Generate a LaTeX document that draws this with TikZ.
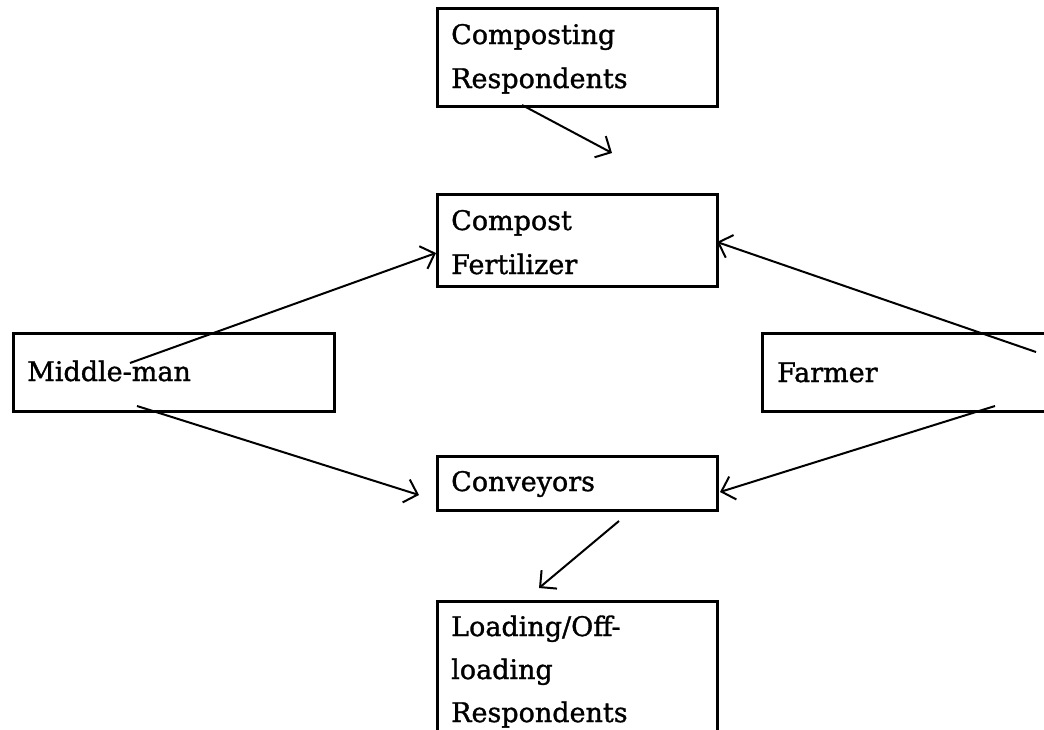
\documentclass[tikz,border=0pt]{standalone}
\usepackage{fontspec}
\setmainfont{DejaVu Serif}
\newfontfamily\heavyserif{DejaVu Serif}[FakeBold=1.2]
\usetikzlibrary{arrows.meta}
\begin{document}
\begin{tikzpicture}[x=1pt,y=-1pt,
  box/.style={draw,line width=2.5pt,rectangle,inner sep=0pt,anchor=north west},
  lbl/.style={anchor=base west,inner sep=0pt,font=\heavyserif\fontsize{27}{30}\selectfont},
  conn/.style={line width=2pt,-{Straight Barb[length=12pt,width=24pt,line width=2pt]}}]
\useasboundingbox (0,0) rectangle (1044,729);
% boxes
\node[box,minimum width=280pt,minimum height=98pt] (cr) at (436,7) {};
\node[box,minimum width=280pt,minimum height=92pt] (cf) at (436,193) {};
\node[box,minimum width=321pt,minimum height=78pt] (mm) at (12,332) {};
\node[box,minimum width=300pt,minimum height=78pt] (fa) at (761,332) {};
\node[box,minimum width=280pt,minimum height=54pt] (cv) at (436,455) {};
\node[box,minimum width=280pt,minimum height=150pt] (lo) at (436,600) {};
% labels
\node[lbl] (t1) at (451,44) {Composting};
\node[lbl] (t2) at (451,88) {Respondents};
\node[lbl] (t3) at (451,230) {Compost};
\node[lbl] (t4) at (451,274) {Fertilizer};
\node[lbl] (t5) at (27,381) {Middle-man};
\node[lbl] (t6) at (777,382) {Farmer};
\node[lbl] (t7) at (451,491) {Conveyors};
\node[lbl] (t8) at (451,636) {Loading/Off-};
\node[lbl] (t9) at (451,679) {loading};
\node[lbl] (t10) at (451,722) {Respondents};
% connector ends
\coordinate (a1s) at (522,105); \coordinate (a1e) at (612,153);
\coordinate (a2s) at (130,363); \coordinate (a2e) at (436,253);
\coordinate (a3s) at (1036,352); \coordinate (a3e) at (717,242);
\coordinate (a4s) at (137,406); \coordinate (a4e) at (419,495);
\coordinate (a5s) at (995,406); \coordinate (a5e) at (720,492);
\coordinate (a6s) at (619,521); \coordinate (a6e) at (539,588);
\draw[conn] (a1s) -- (a1e);
\draw[conn] (a2s) -- (a2e);
\draw[conn] (a3s) -- (a3e);
\draw[conn] (a4s) -- (a4e);
\draw[conn] (a5s) -- (a5e);
\draw[conn] (a6s) -- (a6e);
\end{tikzpicture}
\end{document}
